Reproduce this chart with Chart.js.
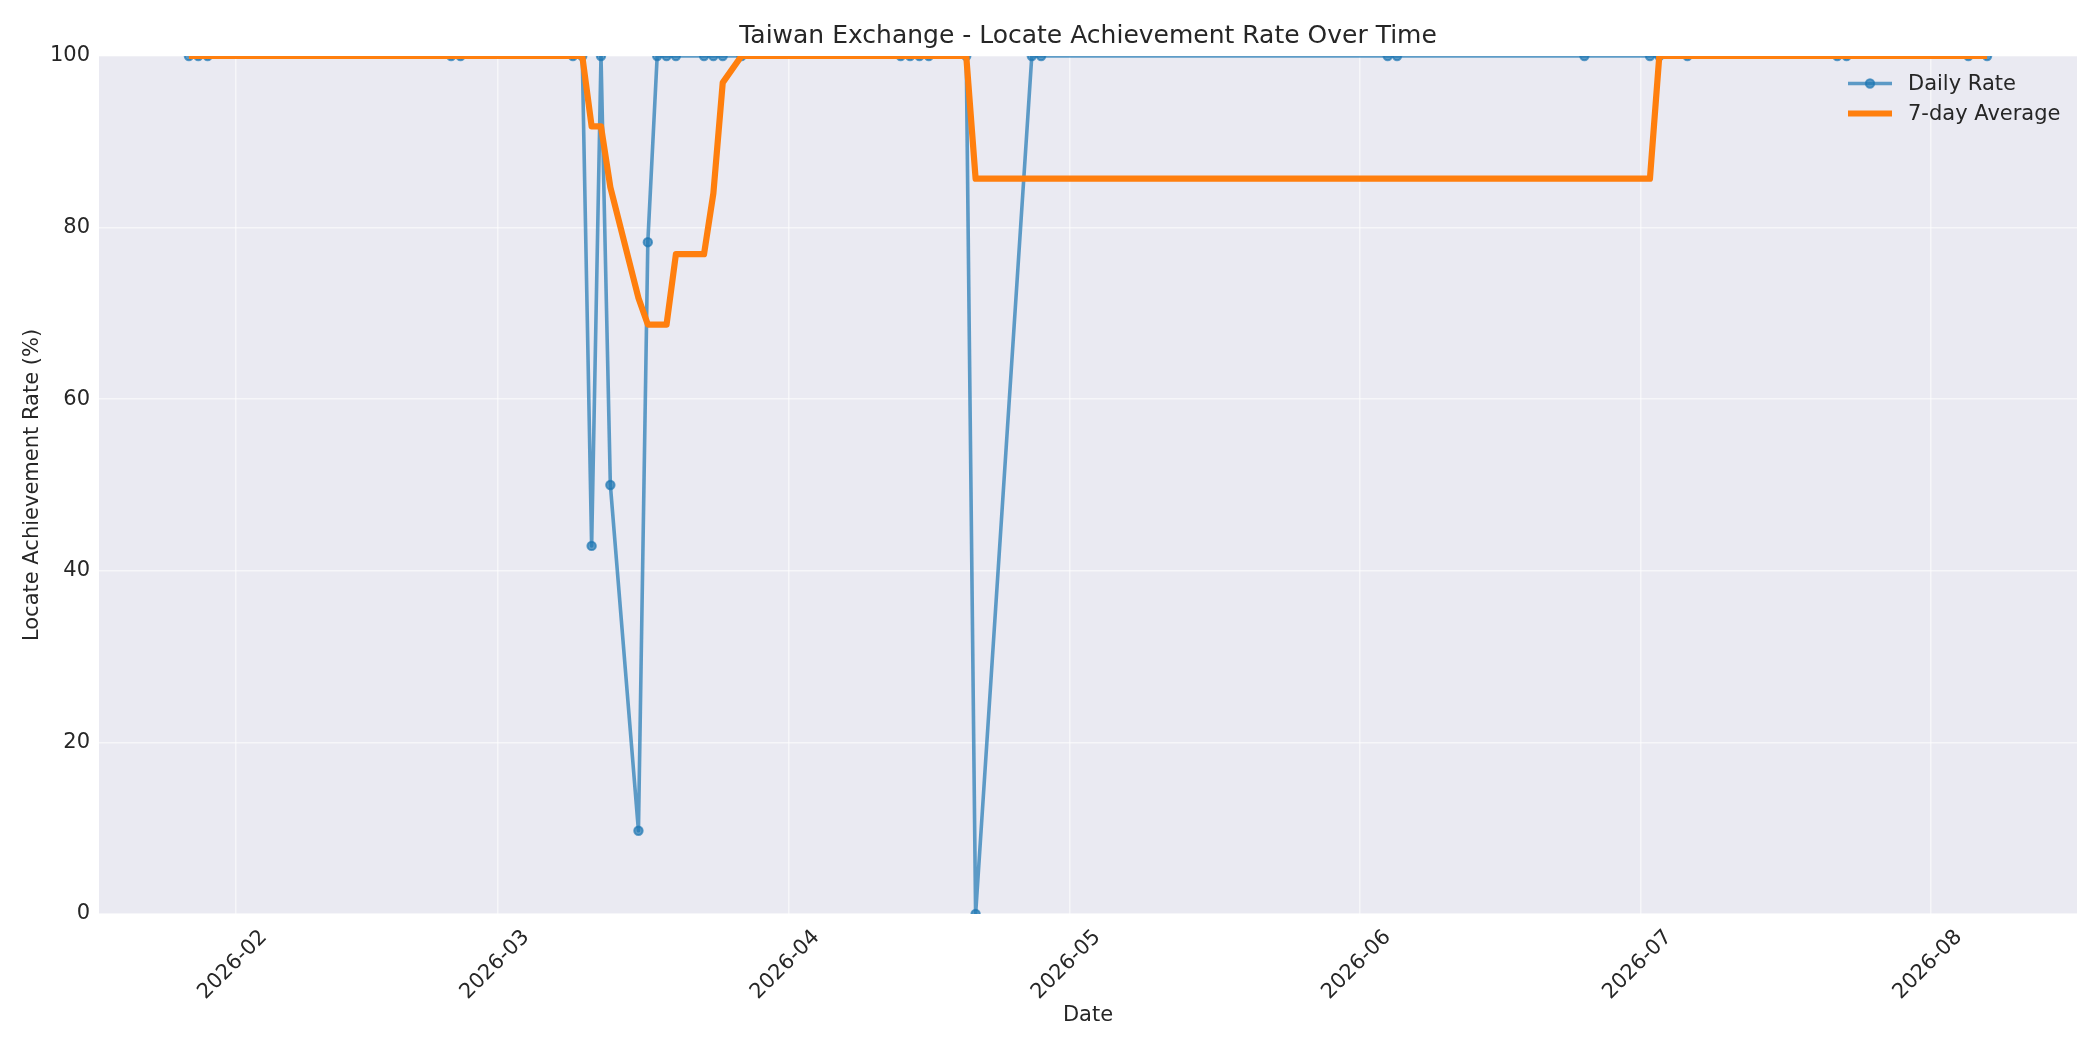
<!DOCTYPE html>
<html>
<head>
<meta charset="utf-8">
<title>Taiwan Exchange - Locate Achievement Rate Over Time</title>
<script src="https://cdn.jsdelivr.net/npm/chart.js@4.4.1/dist/chart.umd.min.js"></script>
<style>
    html, body { margin: 0; padding: 0; background: #ffffff; }
    #wrap { width: 2100px; height: 1050px; }
</style>
</head>
<body>
<div id="wrap"><canvas id="locate-chart" width="2100" height="1050"></canvas></div>
<script>
// Dates that have a locate observation
const obsDates = [
    '2026-01-27', '2026-01-28', '2026-01-29',
    '2026-02-24', '2026-02-25',
    '2026-03-09', '2026-03-10', '2026-03-11', '2026-03-12', '2026-03-13',
    '2026-03-16', '2026-03-17', '2026-03-18', '2026-03-19', '2026-03-20',
    '2026-03-23', '2026-03-24', '2026-03-25', '2026-03-27',
    '2026-04-13', '2026-04-14', '2026-04-15', '2026-04-16',
    '2026-04-20', '2026-04-21', '2026-04-27', '2026-04-28',
    '2026-06-04', '2026-06-05', '2026-06-25',
    '2026-07-02', '2026-07-03', '2026-07-06',
    '2026-07-22', '2026-07-23',
    '2026-08-05', '2026-08-07'
];

// Daily achievement rate (%)
const dailyRate = [
    100, 100, 100,
    100, 100,
    100, 100, 42.9, 100, 50,
    9.7, 78.3, 100, 100, 100,
    100, 100, 100, 100,
    100, 100, 100, 100,
    100, 0, 100, 100,
    100, 100, 100,
    100, 100, 100,
    100, 100,
    100, 100
];

// 7-day average (%)
const weekAverage = [
    100, 100, 100,
    100, 100,
    100, 100, 91.8, 91.8, 84.7,
    71.8, 68.7, 68.7, 68.7, 76.9,
    76.9, 84.0, 96.9, 100,
    100, 100, 100, 100,
    100, 85.7, 85.7, 85.7,
    85.7, 85.7, 85.7,
    85.7, 100, 100,
    100, 100,
    100, 100
];

const monthTicks = ['2026-02', '2026-03', '2026-04', '2026-05', '2026-06', '2026-07', '2026-08'];
const yTicks = [0, 20, 40, 60, 80, 100];

const FONT = "'DejaVu Sans', 'Liberation Sans', sans-serif";
const TEXT = '#262626';
const BLUE = 'rgba(31, 119, 180, 0.7)';
const ORANGE = '#ff7f0e';

// day number counted from 2026-01-01
function dayNum(str) {
    const [y, m, d] = str.split('-').map(Number);
    return (Date.UTC(y, m - 1, d || 1) - Date.UTC(2026, 0, 1)) / 86400000;
}

const firstDay = dayNum(obsDates[0]);
const lastDay = dayNum(obsDates[obsDates.length - 1]);
const pad = (lastDay - firstDay) * 0.05;

const dailyPoints = obsDates.map((d, i) => ({ x: dayNum(d), y: dailyRate[i] }));
const avgPoints = obsDates.map((d, i) => ({ x: dayNum(d), y: weekAverage[i] }));

// plot background
const plotBackground = {
    id: 'plotBackground',
    beforeDraw(chart) {
        const { ctx, chartArea } = chart;
        ctx.save();
        ctx.fillStyle = '#ffffff';
        ctx.fillRect(0, 0, chart.width, chart.height);
        ctx.fillStyle = '#eaeaf2';
        ctx.fillRect(chartArea.left, chartArea.top, chartArea.right - chartArea.left, chartArea.bottom - chartArea.top);
        ctx.restore();
    }
};

// legend inside the upper right corner of the plot
const innerLegend = {
    id: 'innerLegend',
    afterDraw(chart) {
        const { ctx, chartArea } = chart;
        const x0 = chartArea.right - 229;
        let y = chartArea.top + 27.5;
        ctx.save();
        ctx.font = `21px ${FONT}`;
        ctx.textBaseline = 'middle';
        ctx.textAlign = 'left';
        chart.data.datasets.forEach(ds => {
            ctx.strokeStyle = ds.borderColor;
            ctx.lineWidth = ds.borderWidth;
            ctx.lineCap = 'butt';
            ctx.beginPath();
            ctx.moveTo(x0, y);
            ctx.lineTo(x0 + 44, y);
            ctx.stroke();
            if (ds.pointRadius > 0) {
                ctx.fillStyle = ds.pointBackgroundColor;
                ctx.strokeStyle = ds.pointBorderColor;
                ctx.lineWidth = ds.pointBorderWidth;
                ctx.beginPath();
                ctx.arc(x0 + 22, y, ds.pointRadius, 0, Math.PI * 2);
                ctx.fill();
                ctx.stroke();
            }
            ctx.fillStyle = TEXT;
            ctx.fillText(ds.label, x0 + 60, y + 1);
            y += 30;
        });
        ctx.restore();
    }
};

const ctx = document.getElementById('locate-chart').getContext('2d');
new Chart(ctx, {
    type: 'line',
    data: {
        datasets: [
            {
                label: 'Daily Rate',
                data: dailyPoints,
                borderColor: BLUE,
                borderWidth: 3.6,
                borderJoinStyle: 'round',
                pointRadius: 4.2,
                pointBackgroundColor: BLUE,
                pointBorderColor: BLUE,
                pointBorderWidth: 2,
                pointHoverRadius: 4.2,
                tension: 0,
                clip: 0,
                order: 1
            },
            {
                label: '7-day Average',
                data: avgPoints,
                borderColor: ORANGE,
                borderWidth: 6.2,
                borderJoinStyle: 'round',
                pointRadius: 0,
                pointHoverRadius: 0,
                tension: 0,
                clip: 0,
                order: 0
            }
        ]
    },
    options: {
        responsive: false,
        animation: false,
        devicePixelRatio: 1,
        layout: { padding: { left: 0, right: 23, top: 0, bottom: 0 } },
        plugins: {
            legend: { display: false },
            tooltip: { enabled: false },
            title: {
                display: true,
                text: 'Taiwan Exchange - Locate Achievement Rate Over Time',
                fullSize: false,
                color: TEXT,
                font: { family: FONT, size: 25, weight: 'normal' },
                padding: { top: 21, bottom: 5 }
            }
        },
        scales: {
            x: {
                type: 'linear',
                min: firstDay - pad,
                max: lastDay + pad,
                afterBuildTicks(scale) {
                    scale.ticks = monthTicks.map(m => ({ value: dayNum(m) }));
                },
                afterFit(scale) {
                    scale.height = 136;
                },
                ticks: {
                    autoSkip: false,
                    maxRotation: 45,
                    minRotation: 45,
                    padding: 11,
                    labelOffset: 28,
                    color: TEXT,
                    font: { family: FONT, size: 21 },
                    callback: (value, index) => monthTicks[index]
                },
                grid: { color: 'rgba(255,255,255,0.55)', lineWidth: 1.5, drawTicks: false },
                border: { display: false },
                title: {
                    display: true,
                    text: 'Date',
                    color: TEXT,
                    font: { family: FONT, size: 21 },
                    padding: { top: 0, bottom: 22 }
                }
            },
            y: {
                min: 0,
                max: 100,
                afterBuildTicks(scale) {
                    scale.ticks = yTicks.map(v => ({ value: v }));
                },
                afterFit(scale) {
                    scale.width = 99;
                },
                ticks: {
                    padding: 9,
                    color: TEXT,
                    font: { family: FONT, size: 21 },
                    callback: value => String(value)
                },
                grid: { color: 'rgba(255,255,255,0.55)', lineWidth: 1.5, drawTicks: false },
                border: { display: false },
                title: {
                    display: true,
                    text: 'Locate Achievement Rate (%)',
                    color: TEXT,
                    font: { family: FONT, size: 21 },
                    padding: { top: 19.5, bottom: 0 }
                }
            }
        }
    },
    plugins: [plotBackground, innerLegend]
});
</script>
</body>
</html>
